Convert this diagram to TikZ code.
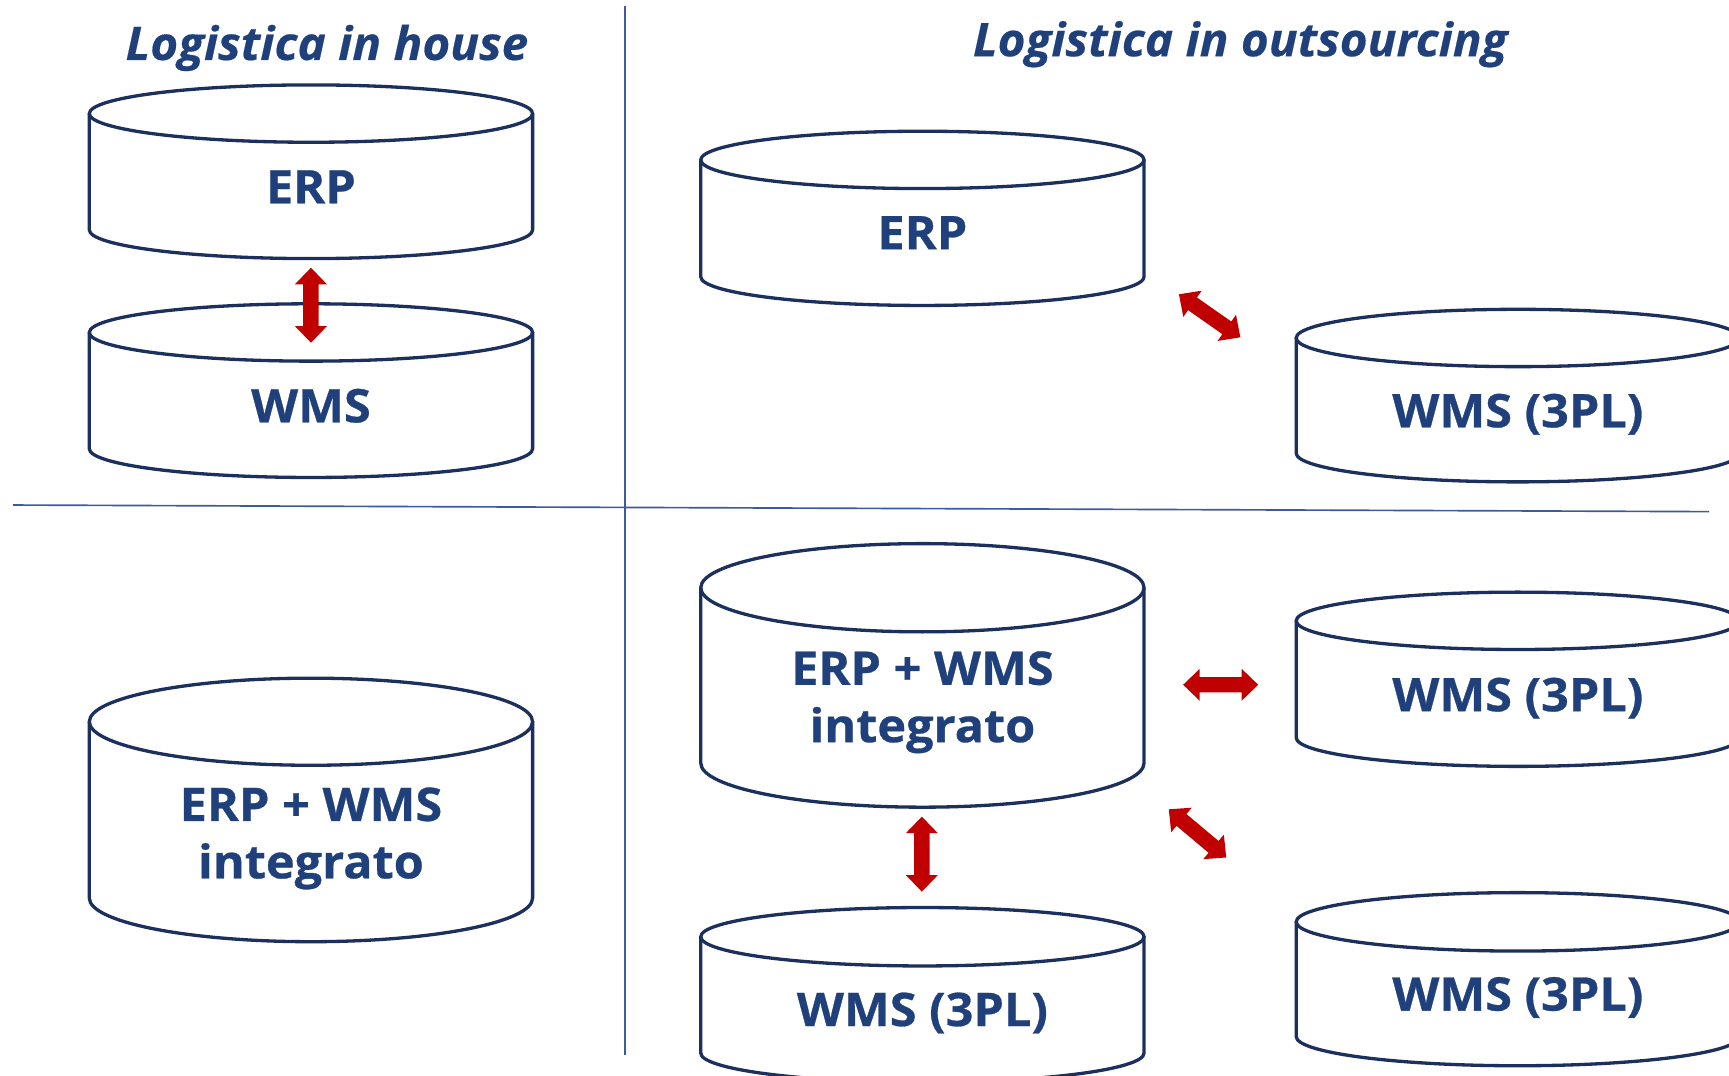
\documentclass[tikz,border=0pt]{standalone}
\usepackage{fontspec}
\newfontfamily\boxfont[FakeStretch=1.05,FakeBold=0.6]{Open Sans}
\newfontfamily\titlefont[FakeStretch=1.03,FakeBold=0.4]{Open Sans}
\definecolor{textblue}{RGB}{31,64,122}
\definecolor{cylblue}{RGB}{27,48,92}
\definecolor{divblue}{RGB}{60,90,160}
\definecolor{arrred}{RGB}{192,0,0}
\tikzset{
  cylline/.style={draw=cylblue,line width=3pt},
  cyltext/.style={anchor=base,inner sep=0pt,text=textblue,font=\boxfont\bfseries\fontsize{42}{52}\selectfont},
  titletext/.style={anchor=base,inner sep=0pt,text=textblue,font=\titlefont\bfseries\itshape\fontsize{42}{50}\selectfont},
  divline/.style={draw=divblue,line width=1.5pt}
}
\newcommand\mycyl[7]{%
  \draw[cylline] ({#2-201},{-#3}) -- ({#2-201},{-#4}) arc[start angle=180,end angle=360,x radius=201,y radius=#5] -- ({#2+201},{-#3});
  \draw[cylline] (#2,-#3) ellipse[x radius=201,y radius=#5];
  \node[cyltext] (#1) at (#2,-#6) {#7};}
\newcommand\dblarr[4]{%
  \begin{scope}[shift={(#2,-#3)},rotate=#4]
    \fill[arrred] (-34,0) -- (-19,14.5) -- (-19,7) -- (19,7) -- (19,14.5) -- (34,0) -- (19,-14.5) -- (19,-7) -- (-19,-7) -- (-19,-14.5) -- cycle;
    \coordinate (#1) at (0,0);
  \end{scope}}
\begin{document}
\begin{tikzpicture}[x=1pt,y=1pt]
\useasboundingbox (0,0) rectangle (1568,-975);
\clip (0,0) rectangle (1568,-975);
% dividers
\coordinate (hl) at (12,-458);
\coordinate (hr) at (1550,-464);
\coordinate (vt) at (567,-5);
\coordinate (vb) at (567,-957);
\draw[divline] (hl) -- (hr);
\draw[divline] (vt) -- (vb);
% titles
\node[titletext] (t1) at (296.5,-54.4) {Logistica in house};
\node[titletext] (t2) at (1124.7,-51) {Logistica in outsourcing};
% cylinders
\mycyl{erpA}{282}{103}{208.5}{26}{184.4}{ERP}
\mycyl{wmsA}{282}{301.5}{407}{26}{383}{WMS}
\mycyl{intA}{282}{654.5}{814.5}{39.5}{744.5}{\begin{tabular}[t]{@{}c@{}}ERP + WMS\\integrato\end{tabular}}
\mycyl{erpB}{836.5}{145}{251}{26}{226}{ERP}
\mycyl{wmsB}{1376.5}{306.5}{411}{26}{387.5}{WMS (3PL)}
\mycyl{intB}{836.5}{533}{692}{40}{621}{\begin{tabular}[t]{@{}c@{}}ERP + WMS\\integrato\end{tabular}}
\mycyl{wmsC}{1376.5}{563}{669}{26}{645}{WMS (3PL)}
\mycyl{wmsD}{836.5}{849.5}{955}{26.5}{930.5}{WMS (3PL)}
\mycyl{wmsE}{1376.5}{836}{940}{26.5}{916.5}{WMS (3PL)}
% arrows
\dblarr{arA}{282}{276.8}{90}
\dblarr{arB}{1097}{286.4}{-35}
\dblarr{arC}{1107}{621}{0}
\dblarr{arD}{836}{774.6}{90}
\dblarr{arE}{1086}{755.8}{-40}
\end{tikzpicture}
\end{document}
